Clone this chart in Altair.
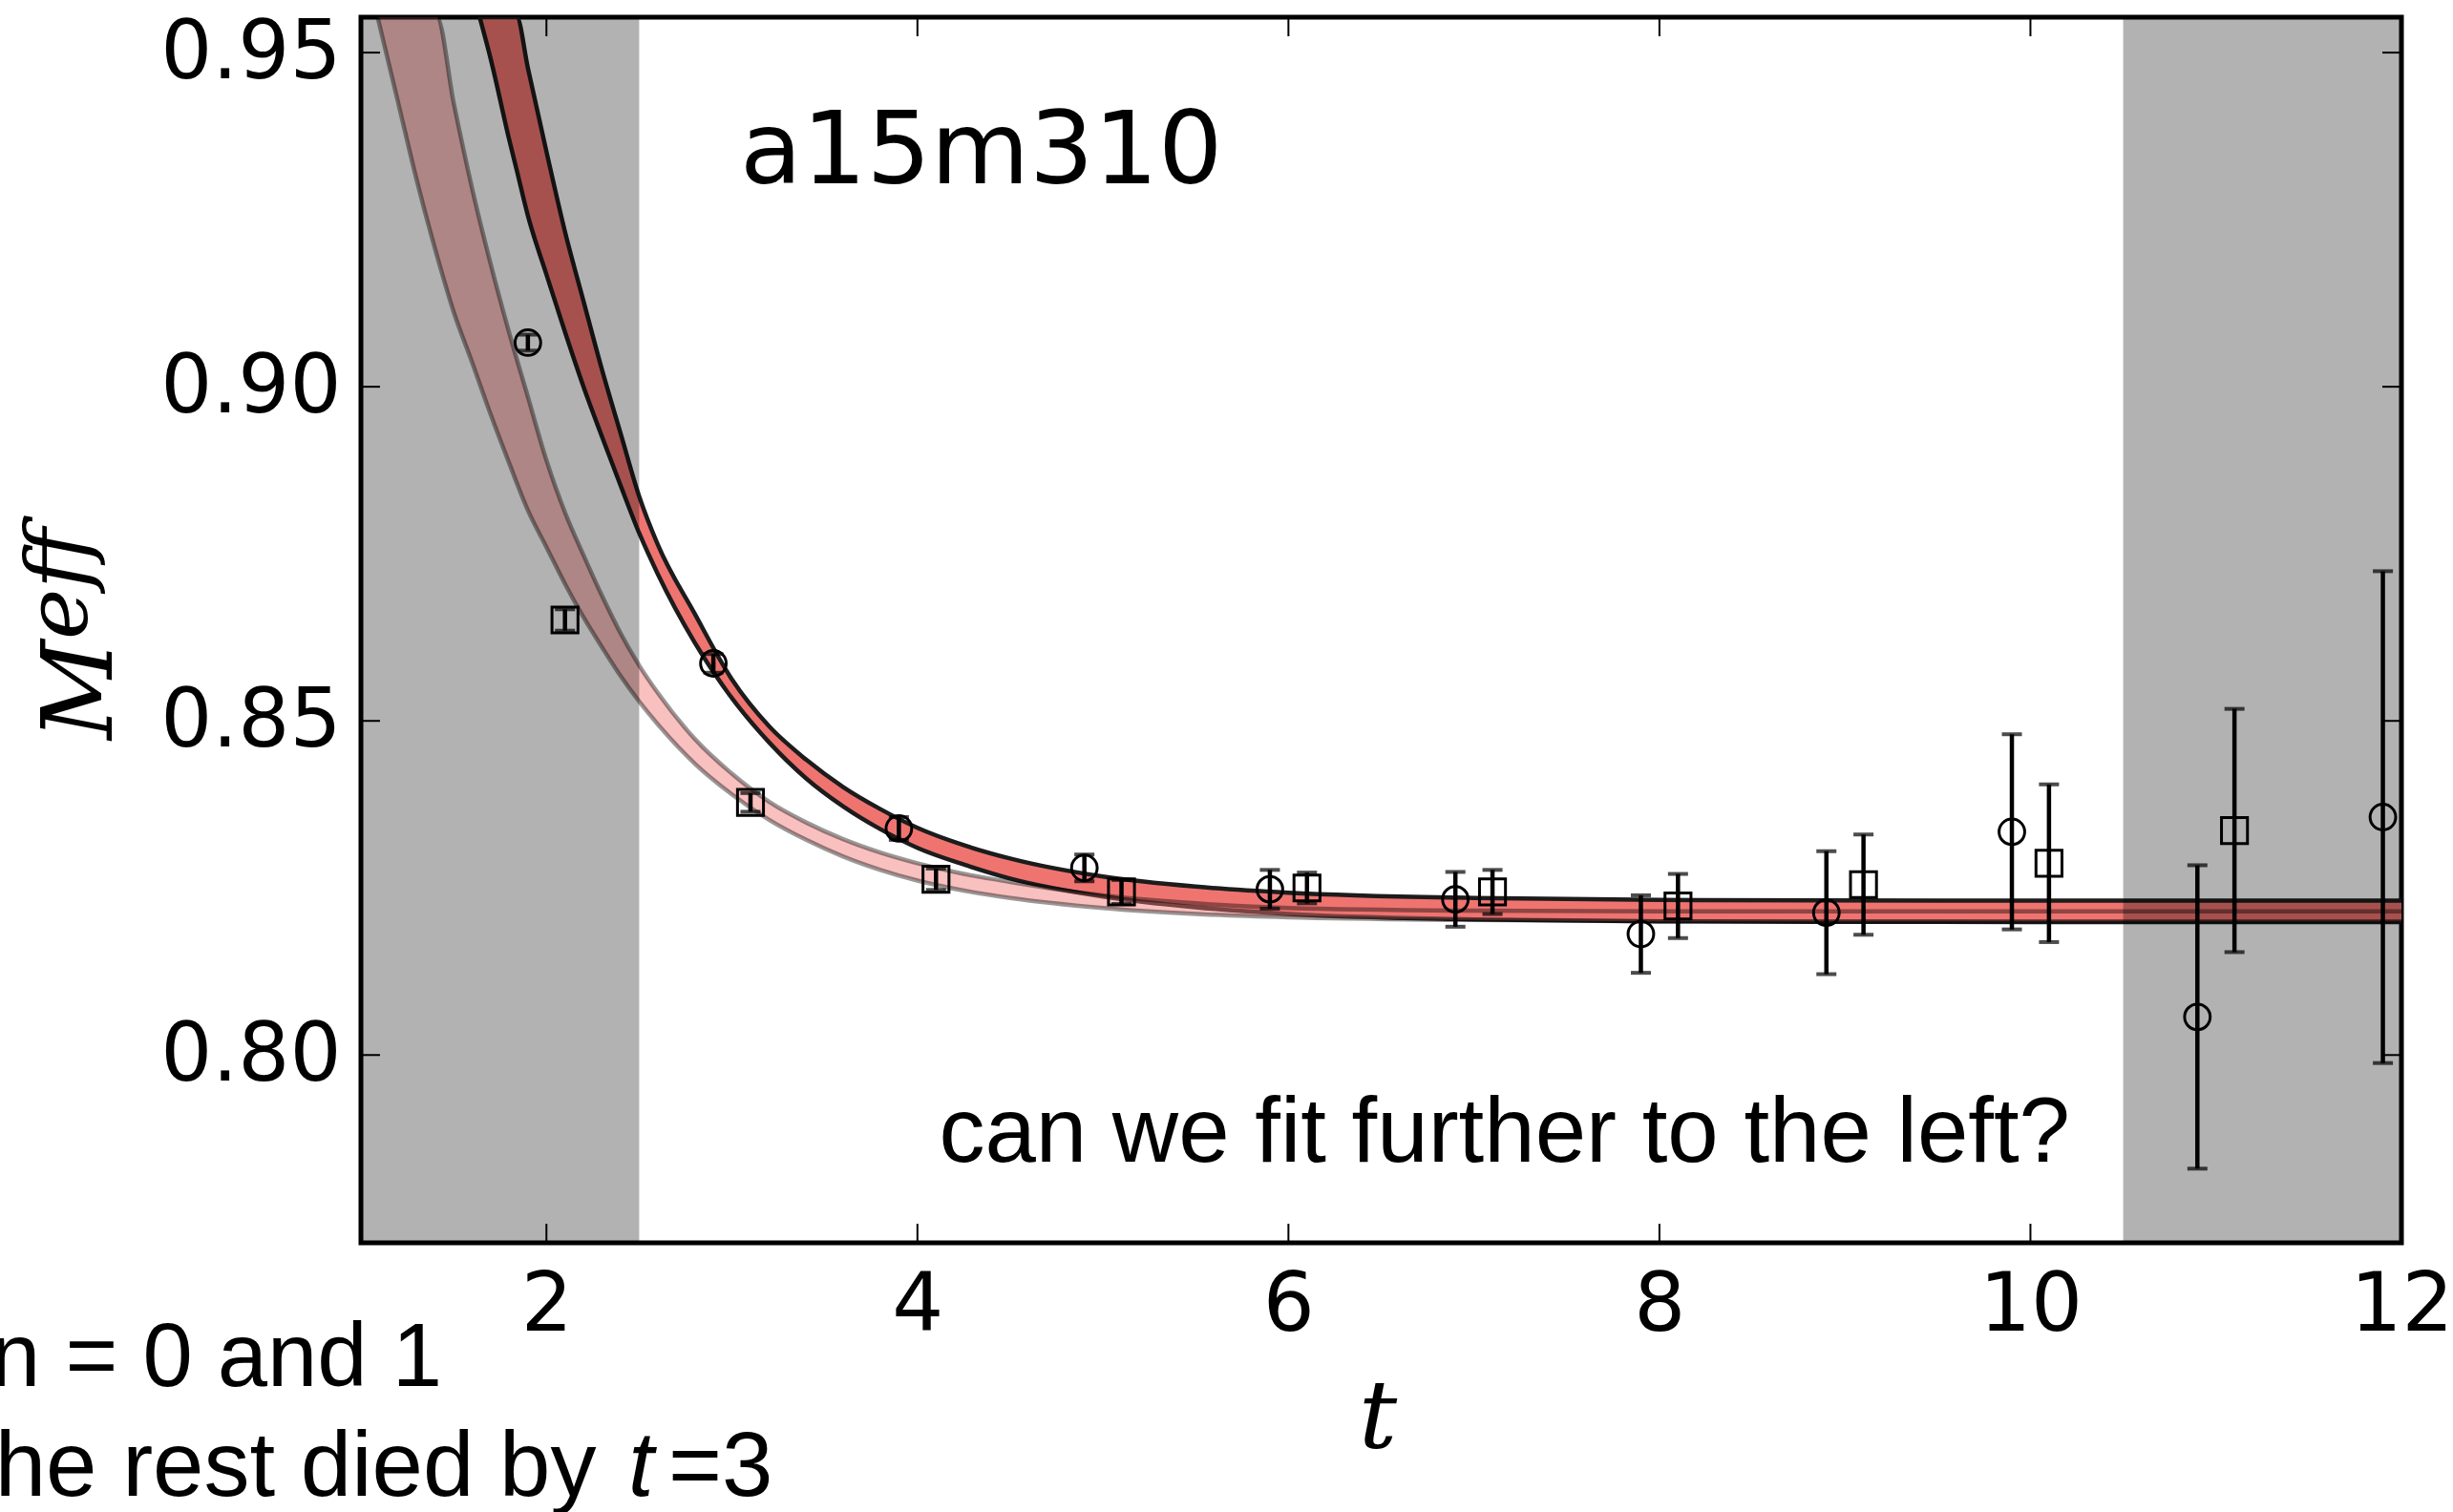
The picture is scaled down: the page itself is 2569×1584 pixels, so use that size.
import altair as alt
import pandas as pd

# ---------------- data ----------------
circle_t = [1.9, 2.9, 3.9, 4.9, 5.9, 6.9, 7.9, 8.9, 9.9, 10.9, 11.9]
circle_m = [0.9066, 0.8586, 0.8339, 0.8280, 0.8248, 0.8233, 0.8181, 0.8213, 0.8334, 0.8057, 0.8356]
circle_e = [0.0012, 0.0014, 0.0017, 0.0020, 0.0029, 0.0041, 0.0058, 0.0092, 0.0146, 0.0227, 0.0368]

square_t = [2.1, 3.1, 4.1, 5.1, 6.1, 7.1, 8.1, 9.1, 10.1, 11.1]
square_m = [0.8651, 0.8378, 0.8263, 0.8244, 0.8250, 0.8244, 0.8223, 0.8255, 0.8287, 0.8336]
square_e = [0.0016, 0.0014, 0.0016, 0.0018, 0.0023, 0.0033, 0.0048, 0.0075, 0.0118, 0.0182]

# fit band 1 (dark edges)
band1_t = [1.64, 1.70, 1.80, 1.84, 1.90, 2.00, 2.10, 2.20, 2.30, 2.40, 2.50, 2.60, 2.80, 3.00,
           3.20, 3.40, 3.60, 3.80, 4.00, 4.25, 4.50, 5.00, 5.50, 6.00, 7.00, 8.00, 10.0, 12.0]
band1_lo = [0.9553, 0.9490, 0.9369, 0.9324, 0.9256, 0.9168, 0.9082, 0.9000, 0.8925, 0.8852, 0.8781,
            0.8720, 0.8617, 0.8534, 0.8468, 0.8414, 0.8372, 0.8338, 0.8310, 0.8285, 0.8264, 0.8237,
            0.8221, 0.8211, 0.8203, 0.8200, 0.8199, 0.8199]
band1_hi = [0.9553, 0.9553, 0.9553, 0.9553, 0.9477, 0.9352, 0.9232, 0.9128, 0.9025, 0.8930, 0.8836,
            0.8764, 0.8660, 0.8562, 0.8492, 0.8442, 0.8401, 0.8368, 0.8340, 0.8314, 0.8294, 0.8267,
            0.8252, 0.8243, 0.8235, 0.8232, 0.8231, 0.8231]

# fit band 2 (light, translucent)
band2_t = [1.09, 1.20, 1.30, 1.41, 1.50, 1.60, 1.70, 1.80, 1.90, 2.00, 2.10, 2.20, 2.30, 2.40, 2.50,
           2.60, 2.80, 3.00, 3.20, 3.40, 3.60, 3.80, 4.00, 4.25, 4.50, 5.00, 5.50, 6.00, 7.00, 8.00,
           10.0, 12.0]
band2_lo = [0.9553, 0.9426, 0.9310, 0.9196, 0.9112, 0.9036, 0.8958, 0.8885, 0.8815, 0.8760, 0.8705,
            0.8655, 0.8610, 0.8567, 0.8529, 0.8495, 0.8436, 0.8390, 0.8352, 0.8322, 0.8297, 0.8277,
            0.8261, 0.8246, 0.8235, 0.8220, 0.8211, 0.8206, 0.8202, 0.8200, 0.8200, 0.8200]
band2_hi = [0.9553, 0.9553, 0.9553, 0.9553, 0.9425, 0.9296, 0.9183, 0.9080, 0.8985, 0.8890, 0.8812,
            0.8748, 0.8687, 0.8631, 0.8583, 0.8542, 0.8473, 0.8421, 0.8379, 0.8348, 0.8323, 0.8303,
            0.8287, 0.8271, 0.8259, 0.8239, 0.8227, 0.8220, 0.8216, 0.8215, 0.8215, 0.8215]

shade_start = [1.0, 10.5]
shade_end = [2.5, 12.0]

x_ticks = [2, 4, 6, 8, 10, 12]
y_ticks = [0.80, 0.85, 0.90, 0.95]

# ---------------- tables ----------------
circles = pd.DataFrame({"t": circle_t, "m": circle_m, "e": circle_e})
squares = pd.DataFrame({"t": square_t, "m": square_m, "e": square_e})
for df in (circles, squares):
    df["lo"] = df["m"] - df["e"]
    df["hi"] = df["m"] + df["e"]
band1 = pd.DataFrame({"t": band1_t, "lo": band1_lo, "hi": band1_hi})
band2 = pd.DataFrame({"t": band2_t, "lo": band2_lo, "hi": band2_hi})
shades = pd.DataFrame({"a": shade_start, "b": shade_end})
xt = pd.DataFrame({"t": x_ticks})
yt = pd.DataFrame({"m": y_ticks})

W, H = 2137, 1284
xs = alt.Scale(domain=[1, 12], nice=False, zero=False)
ys = alt.Scale(domain=[0.7719, 0.9553], nice=False, zero=False)

x_axis = alt.Axis(values=x_ticks, format="d", labelFont="DejaVu Sans", labelFontSize=85,
                  labelColor="black", labelPadding=24, ticks=False, tickSize=0, domain=False,
                  grid=False, title=None, labelFlush=False, labelOverlap=False, labelLimit=0)
y_axis = alt.Axis(values=y_ticks, format=".2f", labelFont="DejaVu Sans", labelFontSize=85,
                  labelColor="black", labelPadding=21, ticks=False, tickSize=0, domain=False,
                  grid=False, title=None, labelOverlap=False, labelLimit=0)


def X(f):
    return alt.X(f, type="quantitative", scale=xs, axis=x_axis)


def Y(f):
    return alt.Y(f, type="quantitative", scale=ys, axis=y_axis)


FILL = "#ef7470"

b1_area = alt.Chart(band1).mark_area(color=FILL, opacity=1, interpolate="monotone", clip=True).encode(
    x=X("t"), y=Y("lo"), y2="hi")
b1_lo = alt.Chart(band1).mark_line(color="#1c1c1c", strokeWidth=4.5, interpolate="monotone", clip=True).encode(
    x=X("t"), y=Y("lo"))
b1_hi = alt.Chart(band1).mark_line(color="#1c1c1c", strokeWidth=4.5, interpolate="monotone", clip=True).encode(
    x=X("t"), y=Y("hi"))

b2_area = alt.Chart(band2).mark_area(color=FILL, opacity=0.45, interpolate="monotone", clip=True).encode(
    x=X("t"), y=Y("lo"), y2="hi")
b2_lo = alt.Chart(band2).mark_line(color="black", opacity=0.4, strokeWidth=4.5, interpolate="monotone", clip=True).encode(
    x=X("t"), y=Y("lo"))
b2_hi = alt.Chart(band2).mark_line(color="black", opacity=0.4, strokeWidth=4.5, interpolate="monotone", clip=True).encode(
    x=X("t"), y=Y("hi"))

shade = alt.Chart(shades).mark_rect(color="black", opacity=0.3).encode(
    x=X("a"), x2="b", y=alt.value(0), y2=alt.value(H))

layers = [b1_area, b1_lo, b1_hi, b2_area, b2_lo, b2_hi, shade]

for df, shape, size in ((circles, "circle", 720), (squares, "square", 740)):
    layers.append(alt.Chart(df).mark_rule(color="black", strokeWidth=4.5, clip=True).encode(
        x=X("t"), y=Y("lo"), y2="hi"))
    for f in ("lo", "hi"):
        layers.append(alt.Chart(df).mark_tick(color="black", orient="horizontal", size=21,
                                              thickness=4, clip=True).encode(x=X("t"), y=Y(f)))
    layers.append(alt.Chart(df).mark_point(shape=shape, size=size, filled=False, stroke="black",
                                           strokeWidth=3, opacity=1, clip=True).encode(
        x=X("t"), y=Y("m")))

# inward ticks on all four sides
layers += [
    alt.Chart(yt).mark_rule(color="black", strokeWidth=2).encode(y=Y("m"), x=alt.value(0), x2=alt.value(20)),
    alt.Chart(yt).mark_rule(color="black", strokeWidth=2).encode(y=Y("m"), x=alt.value(W - 20), x2=alt.value(W)),
    alt.Chart(xt).mark_rule(color="black", strokeWidth=2).encode(x=X("t"), y=alt.value(H - 20), y2=alt.value(H)),
    alt.Chart(xt).mark_rule(color="black", strokeWidth=2).encode(x=X("t"), y=alt.value(0), y2=alt.value(20)),
]

one = alt.Data(values=[{}])


def label(text, x, y, **kw):
    return alt.Chart(one).mark_text(text=text, color="black", **kw).encode(x=alt.value(x), y=alt.value(y))


layers += [
    label("a15m310", 397, 174, font="DejaVu Sans", fontSize=106, align="left", baseline="alphabetic"),
    label("can we fit further to the left?", 1790, 1199, font="Liberation Sans", fontSize=96,
          align="right", baseline="alphabetic"),
    label("t", 1065, 1499, font="DejaVu Serif", fontStyle="italic", fontSize=100, align="center",
          baseline="alphabetic"),
    label("M", -261, 757, font="DejaVu Serif", fontStyle="italic", fontSize=102, angle=270,
          align="left", baseline="alphabetic"),
    label("eff", -287, 652, font="DejaVu Serif", fontStyle="italic", fontSize=90, angle=270,
          align="left", baseline="alphabetic"),
    label("n = 0 and 1", -388, 1434, font="Liberation Sans", fontSize=94, align="left",
          baseline="alphabetic"),
    label("the rest died by", -410, 1549, font="Liberation Sans", fontSize=96, align="left",
          baseline="alphabetic"),
    label("t", 280, 1549, font="Liberation Sans", fontStyle="italic", fontSize=96, align="left",
          baseline="alphabetic"),
    label("=3", 322, 1549, font="Liberation Sans", fontSize=96, align="left", baseline="alphabetic"),
]

chart = alt.layer(*layers).properties(
    width=W, height=H,
    autosize=alt.AutoSizeParams(type="none"),
    padding={"left": 378, "top": 18, "right": 54, "bottom": 282},
    background="white",
).configure_view(stroke="black", strokeWidth=5)

chart.save("out.html", embed_options={"renderer": "svg", "actions": False})
